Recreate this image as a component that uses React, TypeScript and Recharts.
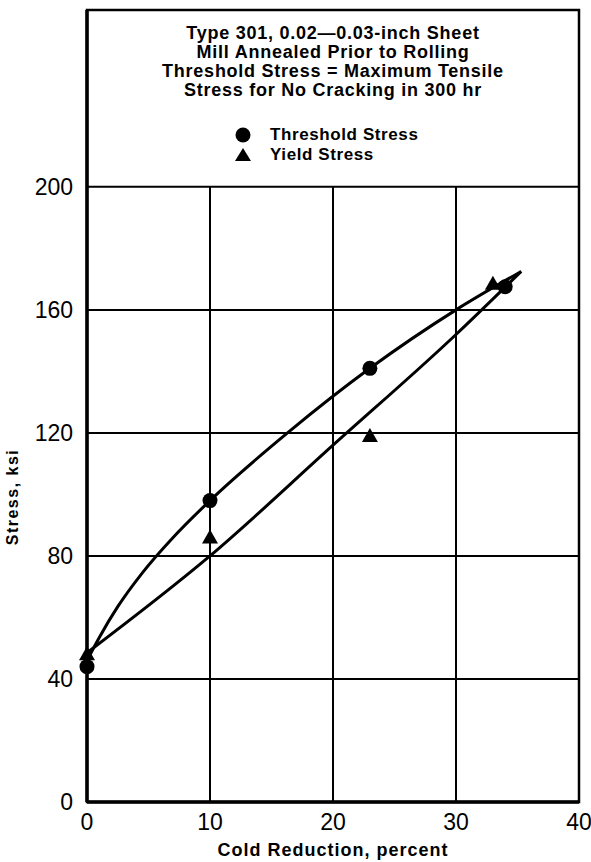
import React from 'react';
import {
  ComposedChart, Line, Scatter, XAxis, YAxis, CartesianGrid, ReferenceLine, ReferenceArea,
} from 'recharts';

const xTicks = [0, 10, 20, 30, 40];
const yTicks = [0, 40, 80, 120, 160, 200];
const verticalGrid = [10, 20, 30];

const thresholdPoints = [
  { x: 0, y: 44 },
  { x: 10, y: 98 },
  { x: 23, y: 141 },
  { x: 34, y: 167.5 },
];
const yieldPoints = [
  { x: 0, y: 48 },
  { x: 10, y: 86 },
  { x: 23, y: 119 },
  { x: 33, y: 168.5 },
];
const thresholdCurve = [
  { x: 0, y: 46 },
  { x: 1, y: 53.5 },
  { x: 2.5, y: 63.5 },
  { x: 4.5, y: 74.5 },
  { x: 7, y: 86 },
  { x: 10, y: 98 },
  { x: 16.3, y: 120 },
  { x: 23, y: 141 },
  { x: 30, y: 160 },
  { x: 35.3, y: 172.5 },
];
const yieldCurve = [
  { x: 0, y: 48.5 },
  { x: 10, y: 80 },
  { x: 20, y: 116 },
  { x: 30, y: 152 },
  { x: 35.3, y: 172.5 },
];

const titleLines = [
  'Type 301, 0.02\u20140.03-inch Sheet',
  'Mill Annealed Prior to Rolling',
  'Threshold Stress = Maximum Tensile',
  'Stress for No Cracking in 300 hr',
];
const legendItems = ['Threshold Stress', 'Yield Stress'];

const FONT = '"Liberation Sans", Arial, Helvetica, sans-serif';

const Circle = (props: any) => {
  const { cx, cy } = props;
  if (cx == null || cy == null) return null;
  return <circle cx={cx} cy={cy} r={7.5} fill="#000" />;
};
const Tri = (props: any) => {
  const { cx, cy } = props;
  if (cx == null || cy == null) return null;
  const s = 8;
  return <path d={`M${cx},${cy - s} L${cx + s},${cy + s * 0.75} L${cx - s},${cy + s * 0.75} Z`} fill="#000" />;
};

export default function App() {
  return (
    <div style={{ position: 'absolute', left: 0, top: 0, width: 591, height: 862, background: '#fff' }}>
      <ComposedChart
        width={591}
        height={862}
        margin={{ top: 10, right: 12, left: 0, bottom: 0 }}
      >
        <CartesianGrid vertical={false} stroke="#000" strokeWidth={2} />
        <ReferenceArea x1={0} x2={40} y1={0} y2={257.5} fill="none" stroke="#000" strokeWidth={2.5} fillOpacity={0} />
        {verticalGrid.map((v) => (
          <ReferenceLine key={v} segment={[{ x: v, y: 0 }, { x: v, y: 200 }]} stroke="#000" strokeWidth={2} />
        ))}
        <XAxis
          type="number"
          dataKey="x"
          domain={[0, 40]}
          ticks={xTicks}
          height={60}
          tickLine={false}
          tickSize={6}
          tickMargin={6}
          axisLine={{ stroke: '#000', strokeWidth: 3.5 }}
          tick={{ fill: '#000', fontSize: 23, fontFamily: FONT }}
          label={{
            content: () => (
              <text x={333} y={856} textAnchor="middle" fontFamily={FONT} fontWeight="bold" fontSize={18} letterSpacing={1} fill="#000">
                Cold Reduction, percent
              </text>
            ),
          }}
        />
        <YAxis
          type="number"
          domain={[0, 257.5]}
          ticks={yTicks}
          width={87}
          tickLine={false}
          tickSize={6}
          tickMargin={8}
          axisLine={{ stroke: '#000', strokeWidth: 3.5 }}
          tick={{ fill: '#000', fontSize: 23, fontFamily: FONT }}
          label={{
            content: () => (
              <text x={18} y={497} transform="rotate(-90 18 497)" textAnchor="middle" fontFamily={FONT} fontWeight="bold" fontSize={16} letterSpacing={1.5} fill="#000">
                Stress, ksi
              </text>
            ),
          }}
        />
        <Line data={thresholdCurve} dataKey="y" type="monotone" stroke="#000" strokeWidth={3} dot={false} isAnimationActive={false} />
        <Line data={yieldCurve} dataKey="y" type="monotone" stroke="#000" strokeWidth={3} dot={false} isAnimationActive={false} />
        <Scatter data={thresholdPoints} dataKey="y" shape={<Circle />} isAnimationActive={false} />
        <Scatter data={yieldPoints} dataKey="y" shape={<Tri />} isAnimationActive={false} />
      </ComposedChart>
      <div
        style={{
          position: 'absolute', left: 87, width: 492, top: 24, textAlign: 'center',
          fontFamily: FONT, fontWeight: 'bold', fontSize: 18, lineHeight: '19px', letterSpacing: 0.75, color: '#000',
        }}
      >
        {titleLines.map((t) => (
          <div key={t}>{t}</div>
        ))}
      </div>
      <div style={{ position: 'absolute', left: 233, top: 125, fontFamily: FONT, fontWeight: 'bold', fontSize: 17, letterSpacing: 0.6, color: '#000' }}>
        {legendItems.map((t, i) => (
          <div key={t} style={{ display: 'flex', alignItems: 'center', height: 20 }}>
            <svg width={20} height={20} style={{ marginRight: 17 }}>
              {i === 0 ? <circle cx={10} cy={10} r={7.5} fill="#000" /> : <path d="M10,3 L18,16 L2,16 Z" fill="#000" />}
            </svg>
            <span>{t}</span>
          </div>
        ))}
      </div>
    </div>
  );
}
